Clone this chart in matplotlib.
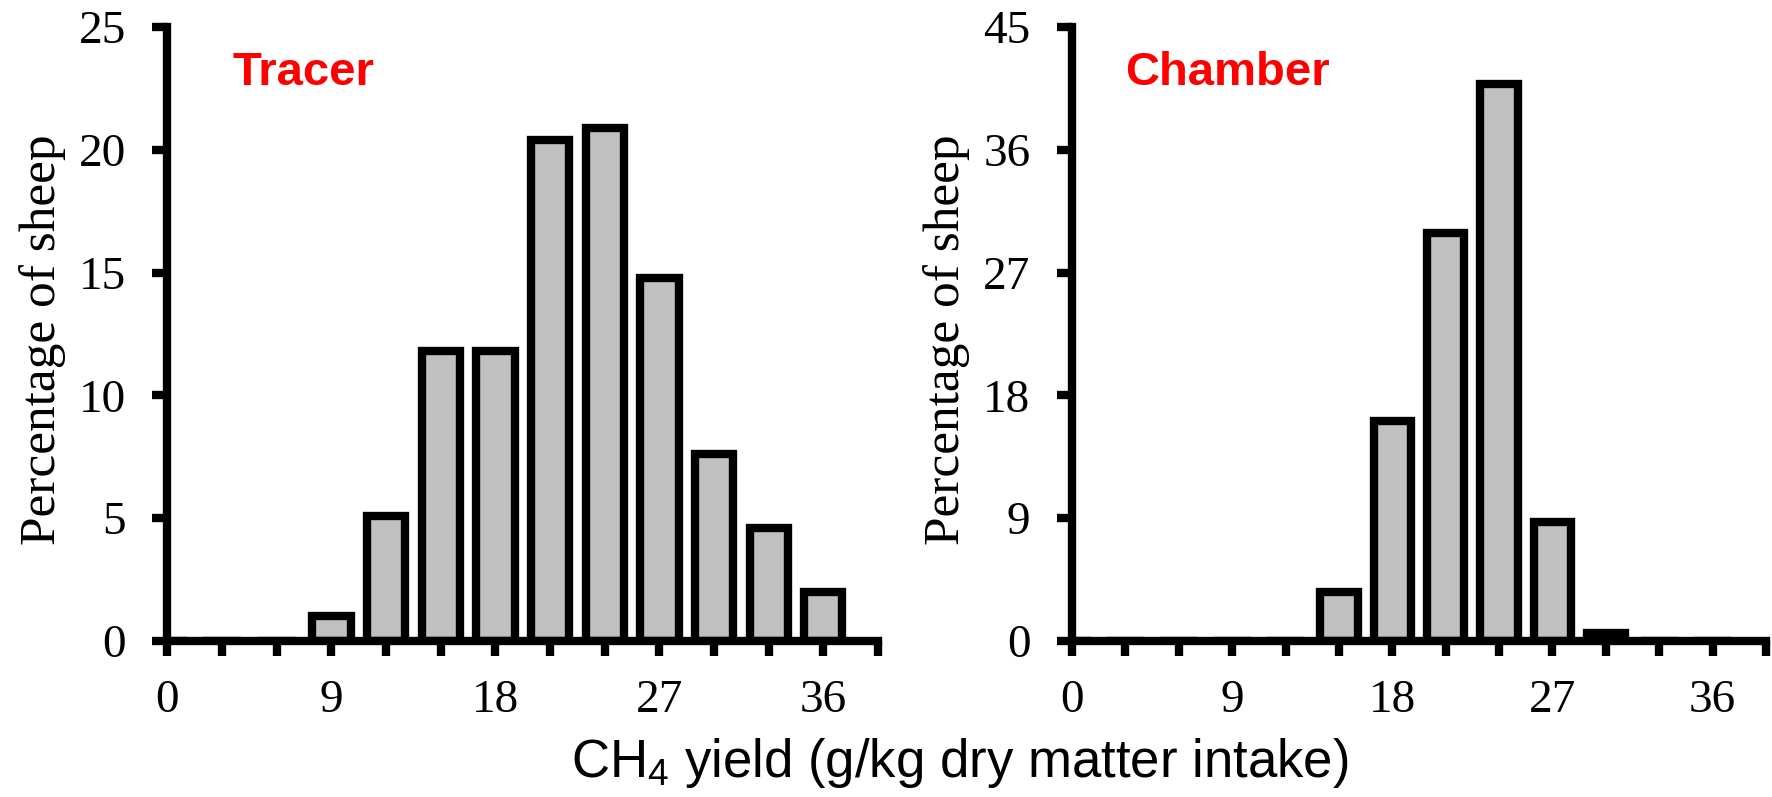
import matplotlib
matplotlib.use('Agg')
import matplotlib.pyplot as plt
from matplotlib import font_manager
from matplotlib.ticker import MultipleLocator

# bin centres (g/kg DMI) and percentage of sheep in each bin
bins = [0, 3, 6, 9, 12, 15, 18, 21, 24, 27, 30, 33, 36]
tracer = [0, 0, 0, 1.0, 5.1, 11.8, 11.8, 20.4, 20.9, 14.8, 7.6, 4.6, 2.0]
chamber = [0, 0, 0, 0, 0, 3.6, 16.1, 29.9, 40.8, 8.7, 0.6, 0, 0]

panel_names = ['Tracer', 'Chamber']
tracer_yticks = [0, 5, 10, 15, 20, 25]
chamber_yticks = [0, 9, 18, 27, 36, 45]
xticks_major = [0, 9, 18, 27, 36]

plt.rcParams['font.family'] = 'Liberation Serif'
plt.rcParams['mathtext.fontset'] = 'custom'
plt.rcParams['mathtext.rm'] = 'Liberation Sans'
plt.rcParams['mathtext.it'] = 'Liberation Sans:italic'

# red panel names use a condensed bold face if one is installed
names = {f.name for f in font_manager.fontManager.ttflist}
if 'Liberation Sans Narrow' in names:
    title_font, title_size = 'Liberation Sans Narrow', 40
else:
    title_font, title_size = 'Liberation Sans', 34

fig = plt.figure(figsize=(17.72, 7.97), dpi=100)
ax1 = fig.add_axes([0.0945, 0.1957, 0.401, 0.7704])
ax2 = fig.add_axes([0.605, 0.1957, 0.3916, 0.7704])

panels = [
    (ax1, tracer, tracer_yticks, panel_names[0], (0.091, 0.905), -0.158),
    (ax2, chamber, chamber_yticks, panel_names[1], (0.076, 0.905), -0.163),
]

for ax, vals, yt, name, tpos, ylx in panels:
    ax.bar(bins, vals, width=2.1, color='#c0c0c0', edgecolor='black', linewidth=6)
    ax.set_xlim(0, 39)
    ax.set_ylim(yt[0], yt[-1])
    ax.set_yticks(yt)
    ax.set_xticks(xticks_major)
    ax.xaxis.set_minor_locator(MultipleLocator(3))
    for s in ['top', 'right']:
        ax.spines[s].set_visible(False)
    for s in ['left', 'bottom']:
        ax.spines[s].set_linewidth(6)
    ax.tick_params(which='both', direction='out', length=11, width=6, color='black')
    ax.tick_params(axis='x', which='major', pad=17, labelsize=34)
    ax.tick_params(axis='y', pad=19, labelsize=34)
    ax.set_ylabel('Percentage of sheep', fontsize=37, va='baseline')
    ax.yaxis.set_label_coords(ylx, 0.49)
    ax.text(tpos[0], tpos[1], name, transform=ax.transAxes, color='#ff0000',
            fontweight='bold', fontsize=title_size, family=title_font,
            ha='left', va='baseline')

fig.text(0.5418, 0.0251, 'CH$_4$ yield (g/kg dry matter intake)', ha='center',
         va='baseline', fontsize=38, family='Liberation Sans')

fig.savefig('out.png', dpi=100)
